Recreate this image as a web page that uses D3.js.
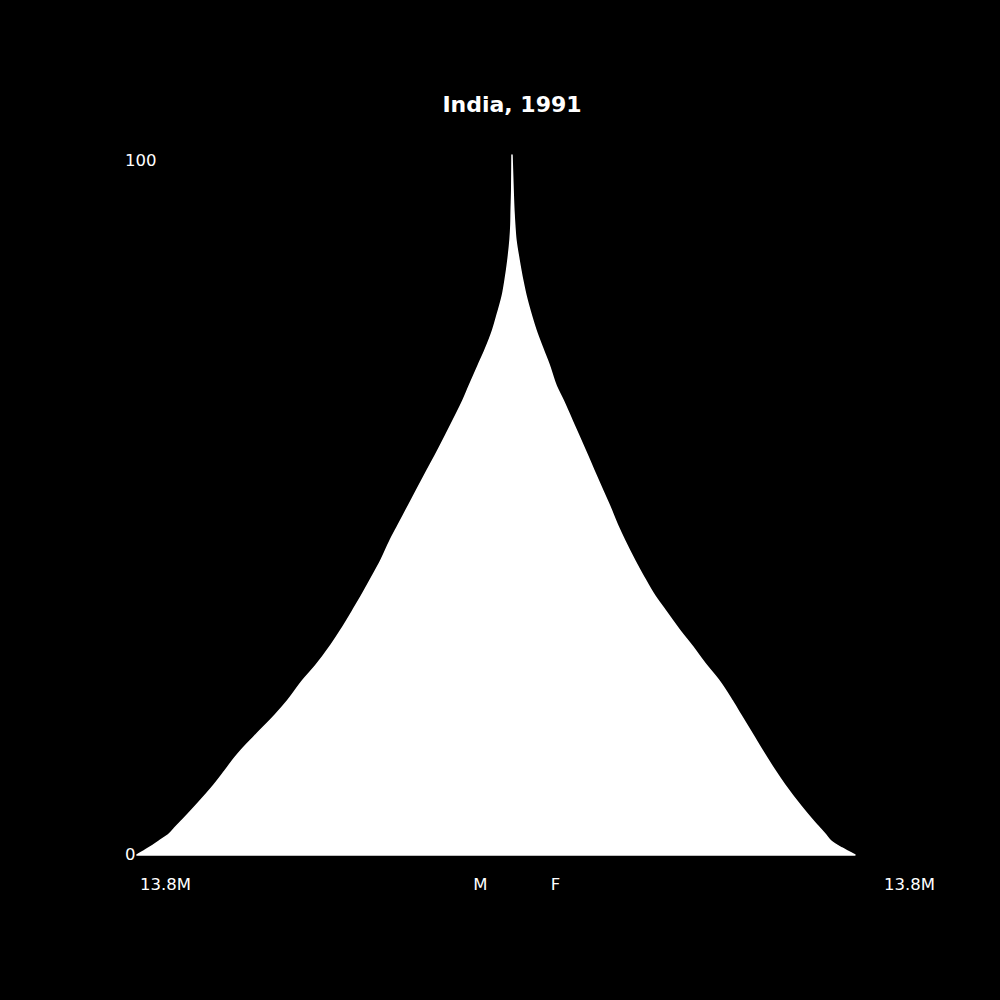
<!DOCTYPE html>
<html>
<head>
<meta charset="utf-8">
<script src="https://cdn.jsdelivr.net/npm/d3@7"></script>
<style>
  html, body { margin: 0; padding: 0; background: #000; }
  svg { display: block; }
</style>
</head>
<body>
<svg id="chart" width="1000" height="1000"></svg>
<script>
const ages = [0, 1, 2, 3, 4, 5, 7, 10, 12, 14, 15, 17, 20, 22, 25, 27, 30, 32, 35, 37, 40, 42, 45, 47, 50, 52, 55, 57, 60, 62, 65, 67, 70, 72, 75, 77, 80, 82, 85, 88, 90, 92, 95, 100];
const male = [13.80, 13.37, 12.99, 12.62, 12.38, 12.13, 11.65, 10.97, 10.57, 10.18, 9.96, 9.47, 8.72, 8.27, 7.69, 7.24, 6.66, 6.32, 5.85, 5.55, 5.12, 4.84, 4.48, 4.21, 3.80, 3.53, 3.12, 2.84, 2.44, 2.18, 1.80, 1.58, 1.24, 1.01, 0.71, 0.56, 0.35, 0.26, 0.15, 0.07, 0.04, 0.03, 0.01, 0.0];
const female = [12.62, 12.14, 11.74, 11.52, 11.29, 11.06, 10.63, 10.04, 9.69, 9.36, 9.20, 8.89, 8.42, 8.11, 7.60, 7.18, 6.60, 6.19, 5.63, 5.26, 4.81, 4.53, 4.14, 3.90, 3.58, 3.35, 3.01, 2.79, 2.45, 2.22, 1.88, 1.63, 1.37, 1.17, 0.88, 0.72, 0.51, 0.40, 0.26, 0.14, 0.10, 0.07, 0.04, 0.0];

const maxPop = 13.8;
const yTicks = [0, 100];
const title = "India, 1991";

const rows = ages.map((a, i) => ({ age: a, m: male[i], f: female[i] }));

const svg = d3.select("#chart");

const x = d3.scaleLinear().domain([-maxPop, maxPop]).range([137, 887]);
const y = d3.scaleLinear().domain([0, 100]).range([855, 155]);

// pyramid: males to the left, females to the right
const area = d3.area()
    .curve(d3.curveMonotoneY)
    .y(d => y(d.age))
    .x0(d => x(-d.m))
    .x1(d => x(d.f));

svg.append("path")
    .datum(rows)
    .attr("d", area)
    .attr("fill", "#fff")
    .attr("stroke", "#fff")
    .attr("stroke-width", 1.5)
    .attr("stroke-linejoin", "round");

// title
svg.append("text")
    .attr("x", 512)
    .attr("y", 112)
    .attr("text-anchor", "middle")
    .attr("font-family", "DejaVu Sans")
    .attr("font-weight", "bold")
    .attr("font-size", "22px")
    .attr("fill", "#fff")
    .text(title);

// age labels
svg.selectAll(".age-label")
    .data(yTicks)
    .enter().append("text")
    .attr("class", "age-label")
    .attr("x", 125)
    .attr("y", d => y(d) + (d === 0 ? 4.5 : 10.5))
    .attr("font-family", "DejaVu Sans")
    .attr("font-size", "16.5px")
    .attr("fill", "#fff")
    .text(d => d);

// bottom labels
const bottom = [
    { v: -maxPop, t: maxPop + "M", dx: 3 },
    { v: -1.43, t: "M", dx: 0 },
    { v: 1.43, t: "F", dx: 0 },
    { v: maxPop, t: maxPop + "M", dx: -3 }
];

svg.selectAll(".pop-label")
    .data(bottom)
    .enter().append("text")
    .attr("class", "pop-label")
    .attr("x", d => x(d.v) + d.dx)
    .attr("y", 890)
    .attr("font-family", "DejaVu Sans")
    .attr("font-size", "16.5px")
    .attr("fill", "#fff")
    .text(d => d.t);
</script>
</body>
</html>
